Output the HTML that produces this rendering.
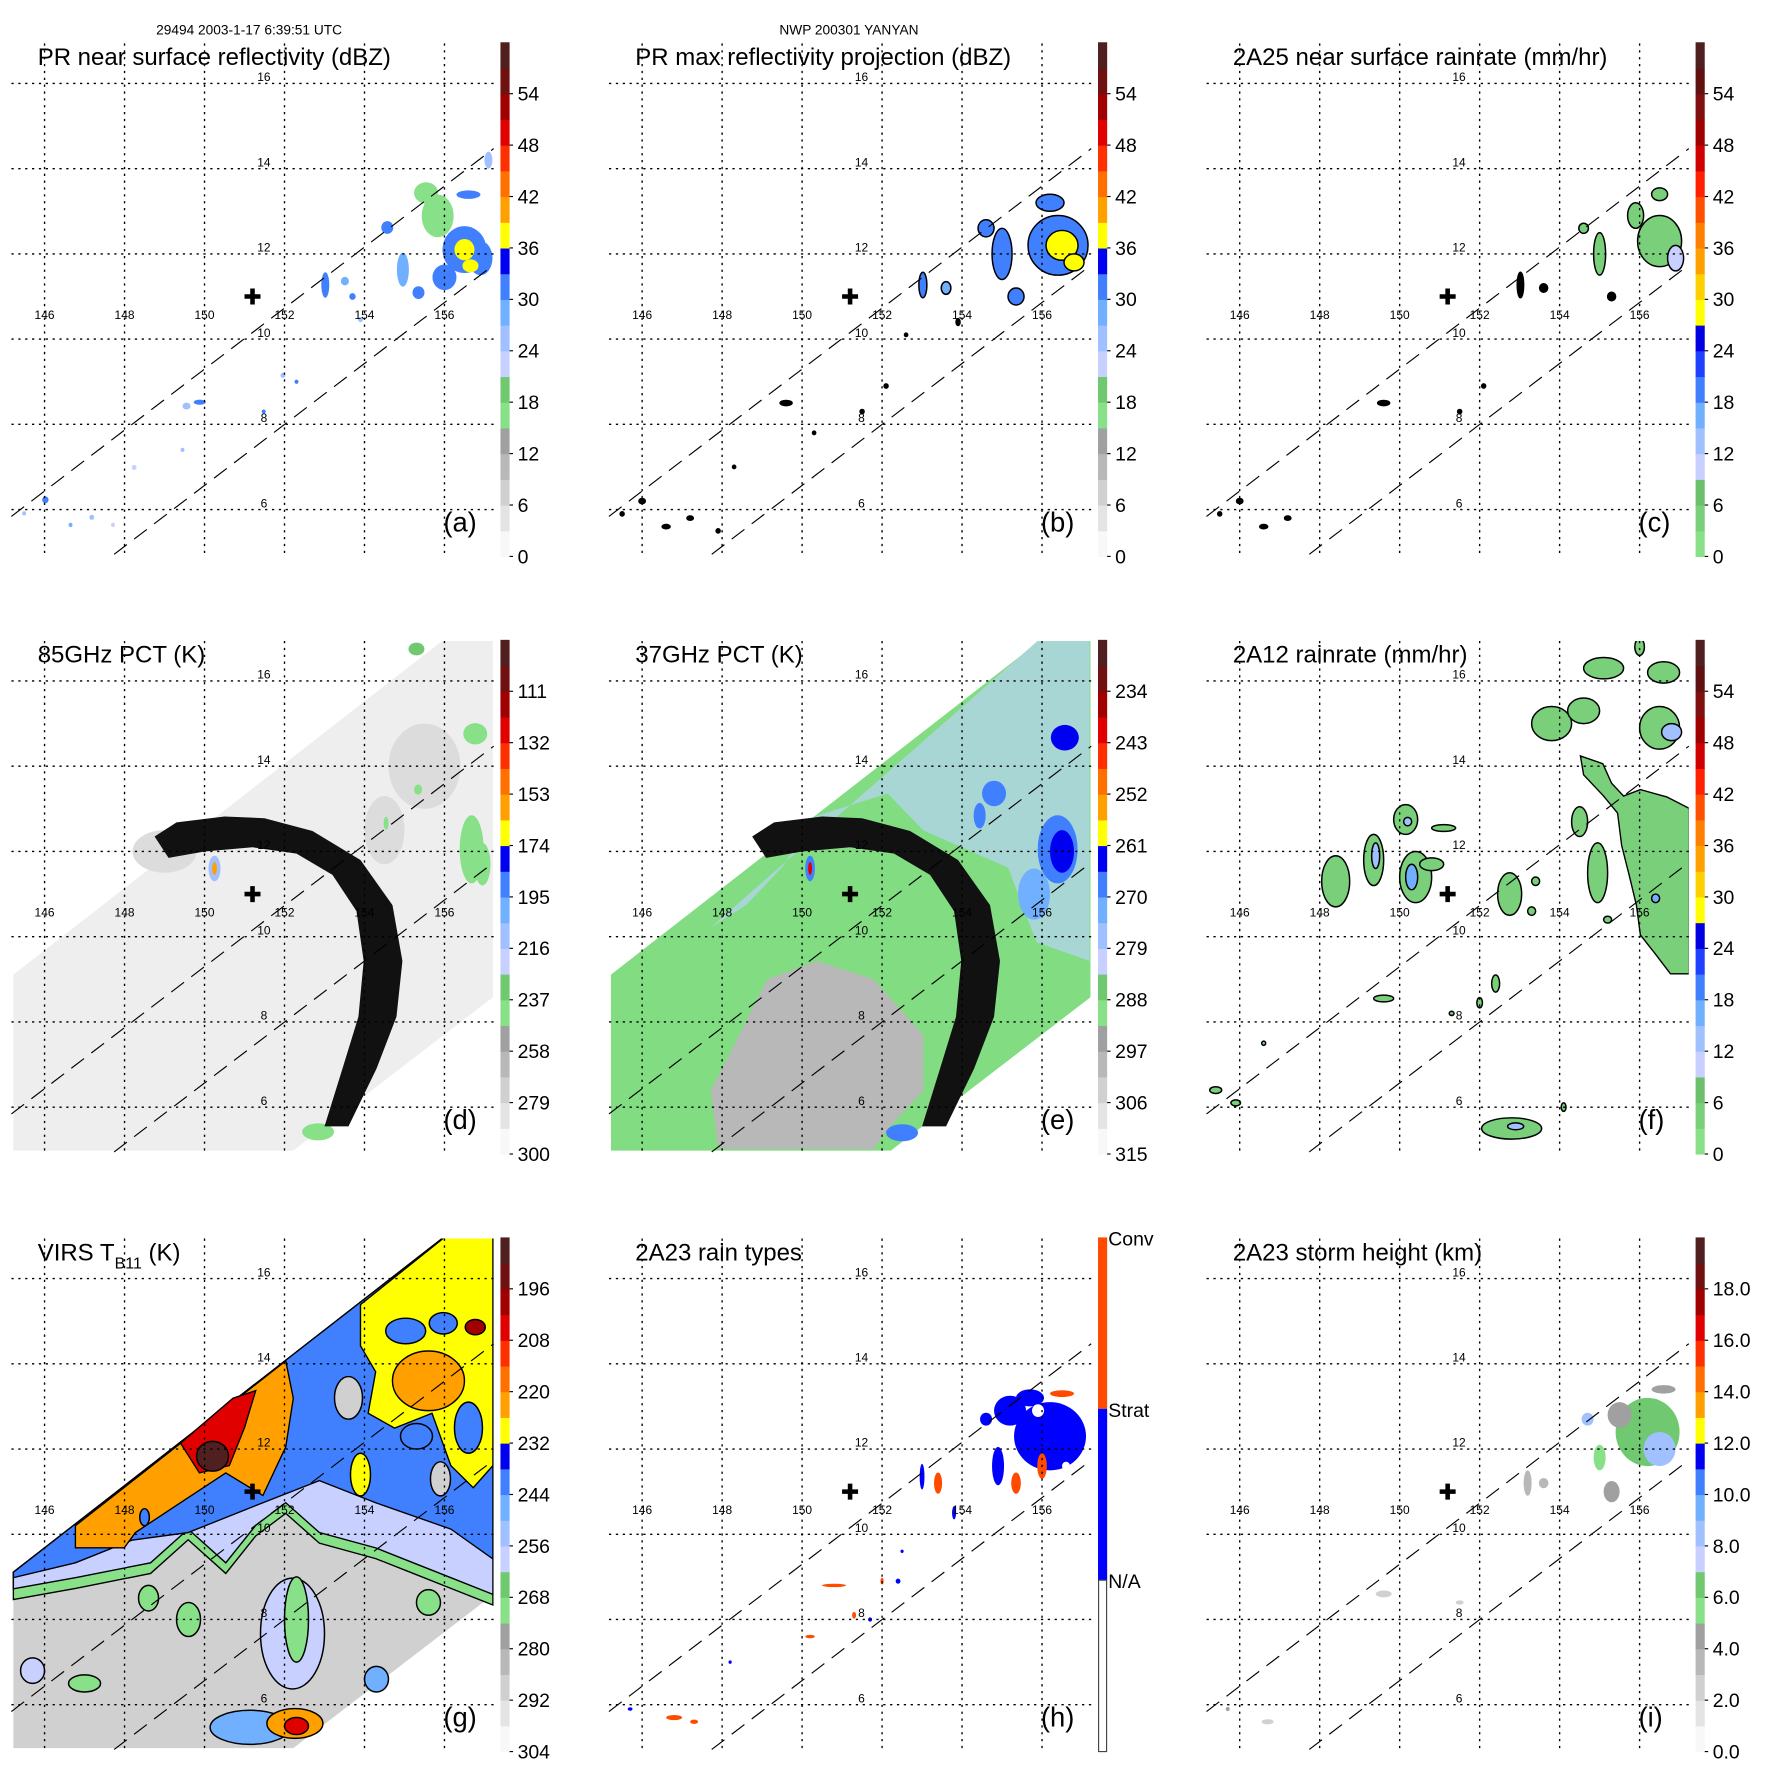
<!DOCTYPE html>
<html><head><meta charset="utf-8"><style>
html,body{margin:0;padding:0;background:#fff}
svg{display:block;font-family:"Liberation Sans",sans-serif}
</style></head><body>
<svg id="fig" width="1771" height="1771" viewBox="0 0 1550 1550" xmlns="http://www.w3.org/2000/svg">
<text x="218" y="30" font-size="12" text-anchor="middle">29494 2003-1-17 6:39:51 UTC</text>
<text x="743" y="30" font-size="12" text-anchor="middle">NWP 200301 YANYAN</text>
</svg>
<script>
// ---------- data ----------
const panelTitles = ["PR near surface reflectivity (dBZ)","PR max reflectivity projection (dBZ)","2A25 near surface rainrate (mm/hr)","85GHz PCT (K)","37GHz PCT (K)","2A12 rainrate (mm/hr)","VIRS T","2A23 rain types","2A23 storm height (km)"];
const panelLetters = ["(a)","(b)","(c)","(d)","(e)","(f)","(g)","(h)","(i)"];
const lonTicks = [146,148,150,152,154,156];
const latTicks = [16,14,12,10,8,6];
const tickA = ["0","6","12","18","24","30","36","42","48","54"];
const tickD = ["300","279","258","237","216","195","174","153","132","111"];
const tickE = ["315","306","297","288","279","270","261","252","243","234"];
const tickG = ["304","292","280","268","256","244","232","220","208","196"];
const tickI = ["0.0","2.0","4.0","6.0","8.0","10.0","12.0","14.0","16.0","18.0"];
const rainTypeLabels = ["Conv","Strat","N/A"];
const stormCenter = [151.2, 11.0];
const swathUpper = [[145.17,5.84],[157.23,14.47]];
const swathLower = [[147.74,4.95],[157.23,11.74]];
const palA = ["#f8f8f8","#e4e4e4","#d0d0d0","#b8b8b8","#a0a0a0","#88e088","#70c870","#c8d0ff","#a0c0ff","#70b0ff","#4080ff","#0000f0","#ffff00","#ffa000","#ff7000","#ff3000","#e00000","#a00000","#701010","#502020"];
const palC = ["#88e088","#7ad07a","#6cc06c","#c8d0ff","#a0c0ff","#70b0ff","#4080ff","#2040ff","#0000e0","#ffff00","#ffd000","#ffa000","#ff8000","#ff5000","#ff2000","#d00000","#a00000","#801010","#601010","#502020"];
// cells: [lon, lat, rxDeg, ryDeg, value]
const aCells = [[156.5,12.1,0.55,0.55,32],[156.0,11.45,0.3,0.3,31],[156.9,11.9,0.3,0.4,30],[156.5,12.1,0.25,0.25,37],[156.65,11.72,0.2,0.15,37],[155.83,12.89,0.4,0.5,17],[155.54,13.43,0.3,0.25,17],[156.6,13.39,0.3,0.1,30],[154.57,12.62,0.15,0.15,31],[154.96,11.63,0.15,0.4,28],[155.35,11.09,0.15,0.15,32],[153.02,11.27,0.1,0.3,30],[153.51,11.36,0.1,0.1,29],[153.7,11.0,0.08,0.08,30],[153.9,10.46,0.06,0.06,26],[149.88,8.52,0.15,0.06,30],[149.55,8.43,0.1,0.08,24],[151.96,9.15,0.06,0.06,26],[152.3,9.0,0.05,0.05,30],[151.48,8.3,0.05,0.05,30],[149.45,7.4,0.05,0.05,24],[148.24,6.99,0.06,0.06,22],[146.02,6.23,0.08,0.08,30],[145.49,5.91,0.05,0.05,26],[146.65,5.64,0.05,0.05,28],[147.18,5.82,0.06,0.06,24],[147.71,5.64,0.05,0.05,22],[157.1,14.2,0.1,0.2,24]];
const bCells = [[156.4,12.2,0.75,0.7,32],[155.0,12.0,0.25,0.6,30],[154.6,12.6,0.2,0.2,31],[156.5,12.2,0.4,0.35,37],[156.8,11.8,0.25,0.2,38],[156.2,13.2,0.35,0.2,30],[153.02,11.27,0.1,0.3,30],[153.6,11.2,0.12,0.15,29],[155.35,11.0,0.2,0.2,32],[149.6,8.5,0.15,0.06,-1],[151.5,8.3,0.05,0.05,-1],[152.1,8.9,0.05,0.05,-1],[153.9,10.4,0.05,0.08,-1],[148.3,7.0,0.04,0.04,-1],[146.0,6.2,0.08,0.06,-1],[146.6,5.6,0.1,0.05,-1],[147.2,5.8,0.08,0.05,-1],[147.9,5.5,0.05,0.05,-1],[145.5,5.9,0.05,0.05,-1],[150.3,7.8,0.04,0.04,-1],[152.6,10.1,0.04,0.04,-1]];
const cCells = [[156.5,12.3,0.55,0.6,4],[156.9,11.9,0.2,0.3,10],[155.9,12.9,0.2,0.3,3],[156.5,13.4,0.2,0.15,3],[155.0,12.0,0.15,0.5,3],[154.6,12.6,0.12,0.12,3],[153.02,11.27,0.08,0.3,-1],[153.6,11.2,0.1,0.1,-1],[155.3,11.0,0.1,0.1,-1],[149.6,8.5,0.15,0.06,-1],[151.5,8.3,0.05,0.05,-1],[152.1,8.9,0.05,0.05,-1],[146.0,6.2,0.08,0.06,-1],[146.6,5.6,0.1,0.05,-1],[147.2,5.8,0.08,0.05,-1],[145.5,5.9,0.05,0.05,-1]];
const swathPts = [[145.22,9.11],[156.0,16.98],[157.21,16.98],[157.21,8.58],[152.22,4.98],[145.22,4.98]];
const arcOuter = [[148.75,12.35],[149.3,12.68],[150.5,12.82],[151.5,12.78],[152.7,12.48],[153.9,11.8],[154.7,10.74],[154.95,9.43],[154.8,8.12],[154.3,6.9],[153.6,5.55]];
const arcInner = [[153.0,5.55],[153.45,6.9],[153.85,8.12],[153.98,9.43],[153.8,10.6],[153.2,11.45],[152.3,11.95],[151.2,12.1],[150.0,12.0],[149.1,11.85]];
const dCells = [[155.5,14.0,0.9,1.0,282],[154.5,12.5,0.5,0.8,285],[149,12,0.8,0.5,288],[156.77,14.76,0.3,0.25,245],[156.68,12.05,0.3,0.8,245],[156.95,11.7,0.2,0.5,245],[155.34,13.45,0.1,0.12,245],[154.54,12.66,0.06,0.15,245],[152.84,5.42,0.4,0.2,245],[150.25,11.6,0.15,0.3,215],[150.25,11.6,0.06,0.15,160],[155.3,16.75,0.2,0.15,230]];
const eGrayRegion = [[147.72,6.38],[149.13,9.0],[150.37,9.43],[151.79,9.0],[153.03,7.69],[153.03,6.38],[152.15,5.5],[151.79,5.02],[147.9,5.02]];
const eBlueRegion = [[147.72,10.22],[155.95,16.99],[157.19,16.99],[157.19,9.43],[155.86,9.87],[155.15,11.62],[153.03,12.49],[152.14,13.36],[150.37,12.84],[149.49,11.62],[148.6,10.74]];
const eRegionValues = [300, 282];
const eCells = [[156.57,14.67,0.35,0.3,264],[156.39,12.05,0.5,0.8,266],[156.5,12.0,0.3,0.5,262],[154.8,13.36,0.3,0.3,268],[154.44,12.84,0.15,0.3,266],[155.8,11.0,0.4,0.6,272],[152.5,5.4,0.4,0.2,266],[150.2,11.6,0.12,0.3,268],[150.2,11.6,0.05,0.15,240]];
const fRegion = [[154.52,14.24],[155.08,14.06],[155.3,13.6],[155.6,13.3],[156.02,13.45],[156.68,13.28],[157.24,13.01],[157.24,9.13],[156.77,9.13],[156.39,9.6],[156.02,10.04],[155.92,10.74],[155.74,11.44],[155.55,12.14],[155.45,12.9],[155.1,13.3],[154.6,13.8]];
const fRegionValue = 4;
const fCells = [[148.4,11.3,0.35,0.6,3],[149.35,11.8,0.25,0.6,3],[149.4,11.9,0.1,0.3,12],[150.15,12.75,0.3,0.35,3],[150.2,12.7,0.1,0.1,12],[150.4,11.4,0.4,0.6,3],[150.3,11.4,0.15,0.3,16],[150.8,11.7,0.3,0.15,3],[151.1,12.55,0.3,0.08,3],[152.75,11.0,0.3,0.5,3],[153.3,10.6,0.1,0.1,3],[153.4,11.3,0.1,0.1,3],[154.5,12.7,0.2,0.35,3],[154.95,11.5,0.25,0.7,3],[155.2,10.4,0.1,0.08,3],[153.8,15.0,0.5,0.4,3],[154.6,15.3,0.4,0.3,3],[155.1,16.3,0.5,0.25,3],[156.0,16.8,0.12,0.2,3],[156.6,16.2,0.4,0.25,3],[156.5,14.9,0.5,0.5,3],[156.8,14.8,0.25,0.2,12],[152.4,8.9,0.1,0.2,3],[152.0,8.45,0.07,0.12,3],[151.3,8.2,0.06,0.05,3],[149.6,8.55,0.25,0.08,3],[145.9,6.1,0.12,0.07,3],[152.8,5.5,0.75,0.25,3],[152.9,5.55,0.2,0.08,12],[154.1,6.0,0.06,0.1,3],[146.6,7.5,0.05,0.05,3],[145.4,6.4,0.15,0.08,3],[156.4,10.9,0.1,0.1,16]];
const gPolyValues = [292,272,260,240,230,222,205];
const gPolyPoints = [
 [[145.22,9.11],[156.0,16.98],[157.21,16.98],[157.21,8.58],[152.22,4.98],[145.22,4.98]],
 [[145.22,9.11],[156.0,16.98],[157.21,16.98],[157.21,8.34],[156.16,8.73],[155.22,9.08],[154.28,9.43],[152.87,9.79],[152.03,10.49],[151.28,9.96],[150.53,9.08],[149.59,9.87],[148.65,9.08],[146.77,8.73],[145.22,8.47]],
 [[145.22,9.11],[156.0,16.98],[157.21,16.98],[157.21,8.59],[156.16,8.98],[155.22,9.33],[154.28,9.68],[152.87,10.04],[152.03,10.74],[151.28,10.21],[150.53,9.33],[149.59,10.12],[148.65,9.33],[146.77,8.98],[145.22,8.72]],
 [[145.22,9.11],[156.0,16.98],[157.21,16.98],[157.21,9.42],[156.16,10.12],[154.28,10.74],[152.87,11.26],[151.46,10.74],[149.59,10.04],[148.18,9.86],[146.77,9.33],[145.22,8.98]],
 [[153.9,15.39],[156.02,16.98],[157.21,16.98],[157.21,11.61],[156.72,11.09],[156.16,11.61],[155.69,12.84],[154.75,12.49],[154.09,12.84],[154.28,13.81],[153.9,14.42]],
 [[146.77,10.2],[152.03,14.07],[152.22,13.19],[152.03,12.05],[151.46,10.91],[150.53,11.44],[149.4,10.74],[148.27,10.04],[147.99,9.68],[146.77,9.68]],
 [[149.4,12.14],[150.71,13.19],[151.28,13.37],[151.0,12.5],[150.62,11.61],[149.87,11.44]]];
const gCells = [[150.2,11.83,0.4,0.35,188],[155.6,13.6,0.9,0.7,222],[156.77,14.86,0.25,0.18,200],[155.03,14.77,0.5,0.3,240],[155.97,14.95,0.35,0.25,240],[156.6,12.5,0.35,0.6,240],[155.3,12.3,0.4,0.3,240],[153.9,11.4,0.25,0.5,230],[152.2,7.67,0.8,1.3,262],[152.3,8.0,0.3,1.0,272],[151.14,5.47,1.0,0.4,245],[152.26,5.56,0.7,0.35,225],[152.3,5.5,0.3,0.2,208],[148.6,8.5,0.25,0.3,272],[149.6,8.0,0.3,0.4,272],[147.0,6.5,0.4,0.2,272],[145.7,6.8,0.3,0.3,262],[154.3,6.6,0.3,0.3,250],[155.6,8.4,0.3,0.3,272],[153.6,13.2,0.35,0.5,290],[155.9,11.3,0.25,0.4,290],[148.5,10.4,0.12,0.2,240]];
// rain type: 1 strat, 2 conv, 0 none
const hCells = [[156.2,12.3,0.9,0.8,1],[155.2,12.9,0.4,0.35,1],[155.7,13.2,0.35,0.2,1],[155.9,12.9,0.15,0.15,0],[156.6,11.6,0.1,0.1,0],[156.0,11.6,0.12,0.3,2],[156.5,13.3,0.3,0.08,2],[154.9,11.6,0.15,0.45,1],[155.35,11.2,0.12,0.25,2],[153.4,11.2,0.1,0.25,2],[153.0,11.35,0.06,0.3,1],[154.6,12.7,0.15,0.15,1],[153.8,10.5,0.05,0.15,1],[150.8,8.8,0.3,0.04,2],[151.3,8.1,0.05,0.08,2],[152.0,8.9,0.04,0.08,2],[150.2,7.6,0.12,0.04,2],[146.8,5.7,0.2,0.06,2],[147.3,5.6,0.1,0.05,2],[145.7,5.9,0.06,0.04,1],[151.7,8.0,0.05,0.05,1],[152.5,9.6,0.04,0.04,1],[152.4,8.9,0.06,0.06,1],[148.2,7.0,0.04,0.04,1]];
const iCells = [[156.2,12.4,0.8,0.8,6],[156.5,12.0,0.4,0.4,8],[155.5,12.8,0.3,0.3,4.5],[154.7,12.7,0.15,0.15,8],[156.6,13.4,0.3,0.1,4.5],[153.2,11.2,0.1,0.3,3],[153.6,11.2,0.12,0.12,3],[155.3,11.0,0.2,0.25,4.5],[155.0,11.8,0.15,0.3,5.5],[149.6,8.6,0.2,0.08,2],[151.5,8.4,0.1,0.05,2.5],[146.7,5.6,0.15,0.06,2.5],[145.7,5.9,0.05,0.05,4]];

// ---------- helpers ----------
const NS="http://www.w3.org/2000/svg";
const svg=document.getElementById('fig');
function mk(tag,attrs,parent){const e=document.createElementNS(NS,tag);for(const k in attrs)e.setAttribute(k,attrs[k]);(parent||svg).appendChild(e);return e;}
const PW=523, DX=35, DY=37.3;
function X(c,lon){return c*PW+39+(lon-146)*DX;}
function Y(r,lat){return r*PW+73+(16-lat)*DY;}
function colorOf(pal,v,lo,hi){let i=Math.floor((v-lo)/(hi-lo)*20);i=Math.max(0,Math.min(19,i));return pal[i];}
function pts(c,r,list){return list.map(p=>X(c,p[0]).toFixed(1)+','+Y(r,p[1]).toFixed(1)).join(' ');}

function drawCells(g,c,r,cells,colFn,stroke,name){
 cells.forEach(d=>{
  const e=mk('ellipse',{cx:X(c,d[0]),cy:Y(r,d[1]),rx:d[2]*DX,ry:d[3]*DY,fill:colFn(d[4])},g);
  if(stroke){e.setAttribute('stroke','#000');e.setAttribute('stroke-width','1.3');}
  
  
 });
}
function drawPoly(g,c,r,list,fill,stroke,name){
 const e=mk('polygon',{points:pts(c,r,list),fill:fill},g);
 if(stroke){e.setAttribute('stroke','#000');e.setAttribute('stroke-width','1.2');}
 
 
 return e;
}

function panel(idx){
 const c=idx%3, r=Math.floor(idx/3), ox=c*PW, oy=r*PW;
 const g=mk('g',{});
 
 
 const cp=mk('clipPath',{id:'clip'+idx},g);
 mk('rect',{x:ox+10,y:oy+38,width:422,height:449},cp);
 const data=mk('g',{'clip-path':'url(#clip'+idx+')'},g);
 
 
 return {g,data,c,r,ox,oy};
}

function decorate(P,idx,ticks,pal){
 const {g,c,r,ox,oy}=P;
 lonTicks.forEach(lon=>{
  const l=mk('line',{x1:X(c,lon),x2:X(c,lon),y1:oy+38,y2:oy+487,stroke:'#000','stroke-width':1.2,'stroke-dasharray':'2,4'},g);
  
  
  const t=mk('text',{x:X(c,lon),y:oy+279,'font-size':10.5,'text-anchor':'middle'},g);t.textContent=lon;
  
  
 });
 latTicks.forEach(lat=>{
  const l=mk('line',{x1:ox+10,x2:ox+432,y1:Y(r,lat),y2:Y(r,lat),stroke:'#000','stroke-width':1.2,'stroke-dasharray':'2,4'},g);
  
  
  const t=mk('text',{x:ox+231,y:Y(r,lat)-2,'font-size':10.5,'text-anchor':'middle'},g);t.textContent=lat;
  
  
 });
 [swathUpper,swathLower].forEach(s=>{
  const l=mk('line',{x1:X(c,s[0][0]),y1:Y(r,s[0][1]),x2:X(c,s[1][0]),y2:Y(r,s[1][1]),stroke:'#000','stroke-width':1,'stroke-dasharray':'14,8'},g);
  
  
 });
 const sx=X(c,stormCenter[0]), sy=Y(r,stormCenter[1]);
 const plus=mk('path',{d:`M${sx-7},${sy}H${sx+7}M${sx},${sy-7}V${sy+7}`,stroke:'#000','stroke-width':4},g);
 
 
 const tt=mk('text',{x:ox+33,y:oy+57,'font-size':21},g);
 
 
 if(idx===6){tt.textContent='VIRS T';const s=mk('tspan',{'font-size':14,dy:7},tt);s.textContent='B11';const s2=mk('tspan',{dy:-7},tt);s2.textContent=' (K)';}
 else tt.textContent=panelTitles[idx];
 const lt=mk('text',{x:ox+388,y:oy+465,'font-size':24},g);lt.textContent=panelLetters[idx];
 
 
 const cb=mk('g',{},g);
 
 
 if(pal){
  pal.forEach((col,i)=>{mk('rect',{x:ox+438,y:oy+487-(i+1)*22.5,width:8,height:23,fill:col},cb);});
  ticks.forEach((t,k)=>{
   const yy=oy+487-k*45;
   mk('line',{x1:ox+446,x2:ox+449,y1:yy,y2:yy,stroke:'#000','stroke-width':1},cb);
   const tx=mk('text',{x:ox+453,y:yy+6,'font-size':17},cb);tx.textContent=t;
   
   
  });
 } else {
  mk('rect',{x:ox+438,y:oy+37,width:8,height:150,fill:'#ff4a00'},cb);
  mk('rect',{x:ox+438,y:oy+187,width:8,height:150,fill:'#0000ff'},cb);
  mk('rect',{x:ox+438.5,y:oy+337,width:7,height:150,fill:'#fff',stroke:'#444','stroke-width':1},cb);
  rainTypeLabels.forEach((t,k)=>{
   const tx=mk('text',{x:ox+447,y:oy+37+k*150+7,'font-size':17},cb);tx.textContent=t;
   
   
  });
 }
}

// (a)
let P=panel(0); drawCells(P.data,P.c,P.r,aCells,v=>colorOf(palA,v,0,60),false,'reflectivity-cell'); decorate(P,0,tickA,palA);
// (b)
P=panel(1); drawCells(P.data,P.c,P.r,bCells,v=>v<0?'#000':colorOf(palA,v,0,60),true,'max-reflectivity-cell'); decorate(P,1,tickA,palA);
// (c)
P=panel(2); drawCells(P.data,P.c,P.r,cCells,v=>v<0?'#000':colorOf(palC,v,0,60),true,'rainrate-cell'); decorate(P,2,tickA,palC);
// (d)
P=panel(3); drawPoly(P.data,P.c,P.r,swathPts,'#eeeeee',false,'tmi-swath');
drawCells(P.data,P.c,P.r,dCells,v=>v>=280?'#dcdcdc':colorOf(palA,300-v,0,210),false,'pct85-cell');
drawPoly(P.data,P.c,P.r,arcOuter.concat(arcInner),'#111',false,'scan-arc');
decorate(P,3,tickD,palA);
// (e)
P=panel(4); drawPoly(P.data,P.c,P.r,swathPts,'#82dc82',false,'tmi-swath');
drawPoly(P.data,P.c,P.r,eGrayRegion,colorOf(palA,315-eRegionValues[0],0,90),false,'warm-region');
drawPoly(P.data,P.c,P.r,eBlueRegion,'#a8d6d4',false,'cold-region');
drawCells(P.data,P.c,P.r,eCells,v=>colorOf(palA,315-v,0,90),false,'pct37-cell');
drawPoly(P.data,P.c,P.r,arcOuter.concat(arcInner),'#111',false,'scan-arc');
decorate(P,4,tickE,palA);
// (f)
P=panel(5); drawPoly(P.data,P.c,P.r,fRegion,colorOf(palC,fRegionValue,0,60),true,'rain-region');
drawCells(P.data,P.c,P.r,fCells,v=>colorOf(palC,v,0,60),true,'rainrate-cell'); decorate(P,5,tickA,palC);
// (g)
P=panel(6);
gPolyPoints.forEach((pl,i)=>drawPoly(P.data,P.c,P.r,pl,colorOf(palA,304-gPolyValues[i],0,120),i>0,'brightness-region'));
drawCells(P.data,P.c,P.r,gCells,v=>colorOf(palA,304-v,0,120),true,'brightness-cell');
decorate(P,6,tickG,palA);
// (h)
P=panel(7); drawCells(P.data,P.c,P.r,hCells,v=>v===2?'#ff4a00':(v===1?'#0000ff':'#fff'),false,'rain-type-cell'); decorate(P,7,null,null);
// (i)
P=panel(8); drawCells(P.data,P.c,P.r,iCells,v=>colorOf(palA,v,0,20),false,'storm-height-cell'); decorate(P,8,tickI,palA);
</script>
</body></html>
